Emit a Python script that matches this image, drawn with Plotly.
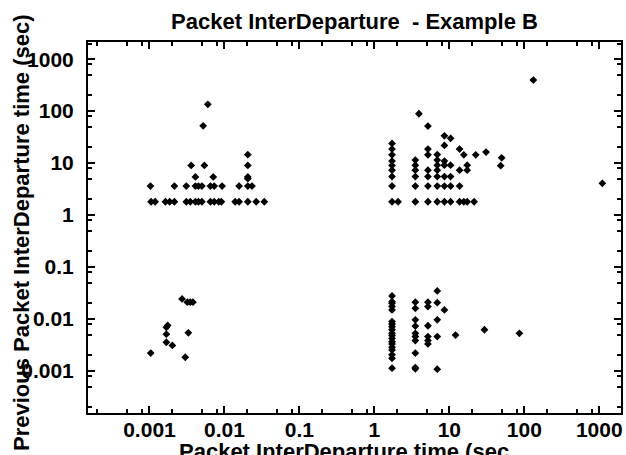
import plotly.graph_objects as go

# ---- data (seconds) ----
# upper-left cluster
ul_x = [0.00105, 0.00119, 0.00163, 0.00186, 0.00215, 0.0031, 0.0035, 0.0041, 0.0045, 0.005,
        0.0065, 0.0073, 0.0084, 0.0091, 0.0139, 0.0157, 0.0205, 0.0265, 0.034,
        0.00103, 0.00215, 0.0031, 0.0041, 0.0045, 0.005, 0.0065, 0.0073, 0.0093, 0.0157, 0.0205, 0.0233,
        0.0041, 0.0071, 0.0205, 0.0205,
        0.0036, 0.0054, 0.0205,
        0.0205, 0.0052, 0.006]
ul_y = [1.8] * 19 + [3.6] * 12 + [5.4, 5.4, 5.4, 5.0] + [9.0, 9.0, 9.0] + [14.5, 52, 135]

# upper-right cluster
ur_x = [1.72] * 9 + [2.07] + [3.52] * 6 + [3.93] + [5.18] * 7 + [6.9] * 7 + [8.6] * 7 + [10.4] * 5 \
       + [13.7] * 4 + [15.6] * 2 + [17.3] * 3 + [21.4, 22.5, 30.9, 49.9, 48.4, 132, 1100]
ur_y = [23.9, 18.6, 14.4, 10.9, 9.0, 7.3, 5.5, 3.6, 1.8,
        1.8,
        11.4, 9.1, 7.3, 5.5, 3.6, 1.8,
        89,
        51.5, 18.6, 14.4, 7.3, 5.5, 3.6, 1.8,
        14.6, 11.4, 9.1, 7.3, 5.5, 3.6, 1.8,
        33.5, 21.9, 10.9, 9.1, 5.5, 3.6, 1.8,
        30, 9.1, 5.5, 3.6, 1.8,
        18.6, 7.3, 3.6, 1.8,
        14.4, 1.8,
        9.1, 7.3, 1.8,
        1.8, 14.4, 16.3, 12.6, 8.9, 395, 4.07]

# lower-left cluster
ll_x = [0.00104, 0.00168, 0.00175, 0.00168, 0.00168, 0.00202, 0.00272, 0.0032, 0.0035, 0.0038, 0.0033, 0.0030]
ll_y = [0.0022, 0.0069, 0.0075, 0.0051, 0.00356, 0.0031, 0.0243, 0.021, 0.021, 0.021, 0.0054, 0.00183]

# lower-right cluster
lr_x = [1.72] * 19 + [3.52] * 10 + [5.18] * 6 + [6.9] * 5 + [8.6, 12.1, 29.4, 86]
lr_y = [0.0277, 0.0215, 0.02, 0.0173, 0.0149, 0.0089, 0.008, 0.0071, 0.0062, 0.0053, 0.0048,
        0.0042, 0.00366, 0.0033, 0.00286, 0.00254, 0.00204, 0.00175, 0.00113,
        0.021, 0.016, 0.0096, 0.0073, 0.0053, 0.00457, 0.00383, 0.0022, 0.00116, 0.0011,
        0.021, 0.0173, 0.0074, 0.00457, 0.00383, 0.0033,
        0.0346, 0.0206, 0.0096, 0.00457, 0.00108,
        0.0149, 0.0049, 0.0062, 0.0053]

tick_vals = [0.001, 0.01, 0.1, 1, 10, 100, 1000]
tick_text = ["0.001", "0.01", "0.1", "1", "10", "100", "1000"]
minor_vals = [m * 10.0 ** e for e in range(-4, 4) for m in (2, 5, 8)]

title_text = "Packet InterDeparture \u00a0- Example B"
x_title = "Packet InterDeparture time (sec"
y_title = "Previous Packet InterDeparture time (sec)"

all_x = ul_x + ur_x + ll_x + lr_x
all_y = ul_y + ur_y + ll_y + lr_y

FONT = "Liberation Sans, Arial, sans-serif"

fig = go.Figure(go.Scatter(
    x=all_x, y=all_y, mode="markers",
    marker=dict(symbol="diamond", size=6, color="black", line=dict(width=0)),
    showlegend=False, cliponaxis=False,
))

axis_common = dict(
    type="log", showgrid=False, zeroline=False,
    showline=True, linecolor="black", linewidth=2, mirror="ticks",
    ticks="inside", ticklen=7, tickwidth=1.5, tickcolor="black",
    tickvals=tick_vals, ticktext=tick_text,
    tickfont=dict(family=FONT, size=21, color="black", weight="bold"),
    minor=dict(tickvals=minor_vals, ticks="inside", ticklen=4, tickwidth=1.5, tickcolor="black", showgrid=False),
)

fig.update_layout(
    width=626, height=455,
    margin=dict(l=88, r=5, t=42, b=42),
    paper_bgcolor="white", plot_bgcolor="white",
    title=dict(text="<b>" + title_text + "</b>", x=0.5, xref="paper", xanchor="center",
               y=1 - 21 / 455, yanchor="middle",
               font=dict(family=FONT, size=22, color="black")),
    xaxis=dict(range=[-3.82, 3.29], ticklabelstandoff=-3, automargin=False, **axis_common),
    yaxis=dict(range=[-3.81, 3.33], ticklabelstandoff=8, automargin=False, **axis_common),
    annotations=[
        dict(text="<b>" + x_title + "</b>", xref="paper", yref="paper",
             x=(344 - 88) / 533, y=(413 - 451) / 371, xanchor="center", yanchor="middle",
             showarrow=False, font=dict(family=FONT, size=22, color="black")),
        dict(text="<b>" + y_title + "</b>", xref="paper", yref="paper",
             x=(21 - 88) / 533, y=(413 - 233) / 371, xanchor="center", yanchor="middle",
             textangle=-90, showarrow=False, font=dict(family=FONT, size=22, color="black")),
    ],
)

fig.write_html("out.html", config={"displayModeBar": False},
               post_script="document.body.style.margin='0px';document.body.style.overflow='hidden';")
